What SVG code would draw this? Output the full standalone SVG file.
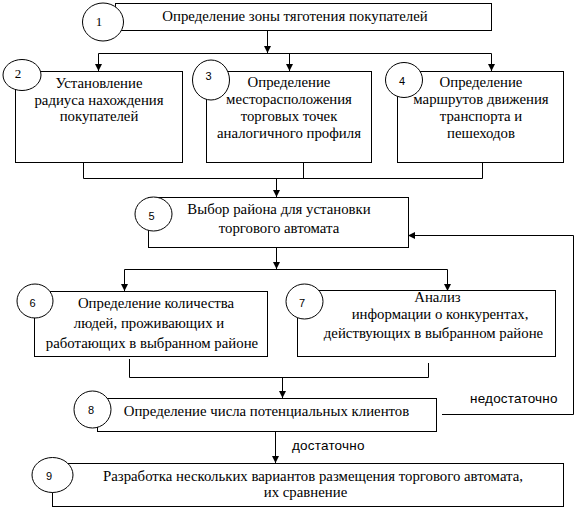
<svg xmlns="http://www.w3.org/2000/svg" width="580" height="510" viewBox="0 0 580 510">
<defs>
<marker id="ah" markerUnits="userSpaceOnUse" markerWidth="8" markerHeight="8" refX="7" refY="3.5" orient="auto">
<path d="M0,0 L7,3.5 L0,7 z" fill="#000"/>
</marker>
<style>
.box{fill:#fff;stroke:#000;stroke-width:1}
.circ{fill:#fff;stroke:#000;stroke-width:1}
.t{font-family:"Liberation Serif","Times New Roman",serif;font-size:14.8px;fill:#000;text-anchor:middle}
.ns{font-family:"Liberation Serif","Times New Roman",serif;font-size:13px;fill:#000;text-anchor:middle}
.n{font-family:"Liberation Sans",Arial,sans-serif;font-size:11px;fill:#000;text-anchor:middle}
.lbl{font-family:"Liberation Sans",Arial,sans-serif;font-size:13.5px;letter-spacing:0.2px;fill:#000}
.c{fill:none;stroke:#000;stroke-width:1}
.a{fill:none;stroke:#000;stroke-width:1;marker-end:url(#ah)}
</style>
</defs>
<rect width="580" height="510" fill="#fff"/>
<g id="connectors">
<path class="a" d="M267.5,30 V53"/>
<path class="c" d="M98.5,53.5 H491.5"/>
<path class="a" d="M98.5,53.5 V71"/>
<path class="a" d="M289.5,53.5 V71"/>
<path class="a" d="M491.5,53.5 V71"/>
<path class="c" d="M83.5,162 V178.5 H482.5 V162"/>
<path class="c" d="M303.5,162 V178.5"/>
<path class="a" d="M276.5,178.5 V197"/>
<path class="a" d="M276.5,247 V269"/>
<path class="c" d="M124.5,269.5 H447.5"/>
<path class="a" d="M124.5,269.5 V291"/>
<path class="a" d="M447.5,269.5 V291"/>
<path class="c" d="M129.5,359 V377.5 H428.5 V363"/>
<path class="a" d="M282.5,377.5 V398"/>
<path class="a" d="M275.5,431 V463"/>
<path class="a" d="M442,414.5 H573.5 V235.5 H408"/>
<text class="lbl" x="292" y="450">достаточно</text>
<text class="lbl" x="470" y="403">недостаточно</text>
</g>
<g id="node1">
<rect class="box" x="115.5" y="3.5" width="376" height="27"/>
<ellipse class="circ" cx="103" cy="22" rx="20.5" ry="19"/>
<text class="ns" x="99" y="26">1</text>
<text class="t" x="295" y="21">Определение зоны тяготения покупателей</text>
</g>
<g id="node2">
<rect class="box" x="15.5" y="71.5" width="167" height="91"/>
<ellipse class="circ" cx="22" cy="75" rx="19" ry="15.5"/>
<text class="ns" x="18" y="78">2</text>
<text class="t" x="99" y="88">Установление</text>
<text class="t" x="99" y="105">радиуса нахождения</text>
<text class="t" x="99" y="121">покупателей</text>
</g>
<g id="node3">
<rect class="box" x="206.5" y="71.5" width="165" height="91"/>
<ellipse class="circ" cx="211" cy="80" rx="18.5" ry="20"/>
<text class="n" x="208.5" y="80">3</text>
<text class="t" x="289" y="87">Определение</text>
<text class="t" x="289" y="104">месторасположения</text>
<text class="t" x="289" y="121">торговых точек</text>
<text class="t" x="289" y="138">аналогичного профиля</text>
</g>
<g id="node4">
<rect class="box" x="397.5" y="71.5" width="166" height="91"/>
<ellipse class="circ" cx="404" cy="80" rx="18.5" ry="17.5"/>
<text class="n" x="402" y="85">4</text>
<text class="t" x="481" y="87">Определение</text>
<text class="t" x="481" y="104">маршрутов движения</text>
<text class="t" x="481" y="121">транспорта и</text>
<text class="t" x="481" y="138">пешеходов</text>
</g>
<g id="node5">
<rect class="box" x="148.5" y="197.5" width="260" height="50"/>
<ellipse class="circ" cx="153.5" cy="214" rx="18.5" ry="17"/>
<text class="n" x="151.5" y="220">5</text>
<text class="t" x="279" y="214">Выбор района для установки</text>
<text class="t" x="279" y="233">торгового автомата</text>
</g>
<g id="node6">
<rect class="box" x="34.5" y="291.5" width="233" height="65"/>
<ellipse class="circ" cx="35" cy="301" rx="18" ry="17"/>
<text class="n" x="32.5" y="307">6</text>
<text class="t" x="156" y="308">Определение количества</text>
<text class="t" x="149" y="328">людей, проживающих и</text>
<text class="t" x="152" y="348">работающих в выбранном районе</text>
</g>
<g id="node7">
<rect class="box" x="297.5" y="290.5" width="258" height="66"/>
<ellipse class="circ" cx="304.5" cy="301.5" rx="18.5" ry="17.5"/>
<text class="n" x="302" y="307">7</text>
<text class="t" x="437.5" y="302">Анализ</text>
<text class="t" x="440" y="319">информации о конкурентах,</text>
<text class="t" x="433.5" y="338">действующих в выбранном районе</text>
</g>
<g id="node8">
<rect class="box" x="97.5" y="398.5" width="339" height="33"/>
<ellipse class="circ" cx="92.5" cy="409.5" rx="18.5" ry="18.5"/>
<text class="n" x="91" y="414">8</text>
<text class="t" x="266.5" y="416">Определение числа потенциальных клиентов</text>
</g>
<g id="node9">
<rect class="box" x="52.5" y="463.5" width="511" height="43"/>
<ellipse class="circ" cx="52.5" cy="475" rx="20.5" ry="17.5"/>
<text class="n" x="49" y="480">9</text>
<text class="t" x="313" y="481">Разработка нескольких вариантов размещения торгового автомата,</text>
<text class="t" x="305.5" y="497">их сравнение</text>
</g>
</svg>
